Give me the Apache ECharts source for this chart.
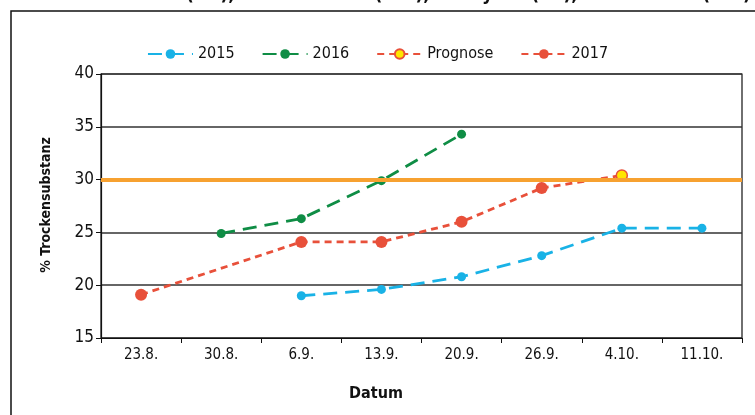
<!DOCTYPE html>
<html><head><meta charset="utf-8">
<script src="https://cdn.jsdelivr.net/npm/echarts@6/dist/echarts.min.js"></script>
<style>html,body{margin:0;padding:0;background:#fff}#c{width:755px;height:415px}</style>
</head><body><div id="c"></div>
<script>
const categories = ['23.8.','30.8.','6.9.','13.9.','20.9.','26.9.','4.10.','11.10.'];
const s2015 = [null, null, 19.0, 19.6, 20.8, 22.8, 25.4, 25.4];
const s2016 = [null, 24.9, 26.3, 29.9, 34.3, null, null, null];
const prognose = [null, null, null, null, null, 29.2, 30.4, null];
const s2017 = [19.1, null, 24.1, 24.1, 26.0, 29.2, null, null];
const threshold = 30;
const yTicks = [15, 20, 25, 30, 35, 40];

const F = '"DejaVu Sans Condensed", "Liberation Sans Narrow", sans-serif';
const chart = echarts.init(document.getElementById('c'));
const prognoseData = prognose.map((v, i) => (v !== null && s2017[i] === v) ? {value: v, symbol: 'none'} : v);
chart.setOption({
  animation: false,
  title: {
    text: 'Standorte: Seehof (SN), Hardehausen (NW), Scheyern (BY), Haus Düsse (NW)',
    left: 'center', top: -19,
    textStyle: {fontFamily: F, fontSize: 19, fontWeight: 'bold', color: '#111'}
  },
  graphic: [
    {type: 'rect', shape: {x: 11, y: 11, width: 780, height: 440}, style: {fill: null, stroke: '#111', lineWidth: 1.5}, z: -1},
    {type: 'text', x: 376, y: 394, style: {text: 'Datum', font: 'bold 16px ' + F, fill: '#111', textAlign: 'center', textVerticalAlign: 'middle'}},
    {type: 'text', x: 46, y: 205, rotation: Math.PI / 2, style: {text: '% Trockensubstanz', font: 'bold 14px ' + F, fill: '#111', textAlign: 'center', textVerticalAlign: 'middle'}}
  ],
  legend: {
    top: 41, left: 'center', itemWidth: 45, itemHeight: 12, itemGap: 27,
    data: ['2015', '2016', 'Prognose', '2017'],
    textStyle: {fontFamily: F, fontSize: 16, color: '#111'}
  },
  grid: {left: 101, right: 13, top: 74, bottom: 77, show: true, borderColor: '#111', borderWidth: 1.2},
  xAxis: {
    type: 'category', data: categories, boundaryGap: true,
    axisLine: {lineStyle: {color: '#111', width: 1.2}},
    axisTick: {show: true, length: 5, lineStyle: {color: '#111'}},
    axisLabel: {fontFamily: F, fontSize: 15, color: '#111', margin: 10}
  },
  yAxis: {
    type: 'value', min: yTicks[0], max: yTicks[yTicks.length - 1], interval: 5,
    axisLine: {show: true, lineStyle: {color: '#111', width: 1.2}},
    axisTick: {show: true, length: 5, lineStyle: {color: '#111'}},
    axisLabel: {fontFamily: F, fontSize: 17, color: '#111', margin: 7},
    splitLine: {lineStyle: {color: '#333', width: 1.5}}
  },
  series: [
    {name: '2015', type: 'line', data: s2015, connectNulls: true,
      symbol: 'circle', symbolSize: 9, itemStyle: {color: '#19b2e6'},
      lineStyle: {color: '#19b2e6', width: 2.8, type: [14, 8]}},
    {name: '2016', type: 'line', data: s2016, connectNulls: true,
      symbol: 'circle', symbolSize: 9, itemStyle: {color: '#0f8d45'},
      lineStyle: {color: '#0f8d45', width: 2.8, type: [14, 8]}},
    {name: 'Prognose', type: 'line', data: prognoseData, connectNulls: true,
      symbol: 'circle', symbolSize: 11, showAllSymbol: true,
      itemStyle: {color: '#ffe600', borderColor: '#e8503a', borderWidth: 1.5},
      lineStyle: {color: '#e8503a', width: 2.8, type: [7, 5]},
      markLine: {silent: true, symbol: 'none', label: {show: false},
        lineStyle: {color: '#f7a130', width: 4, type: 'solid'},
        data: [{yAxis: threshold}]}, z: 1},
    {name: '2017', type: 'line', data: s2017, connectNulls: true,
      symbol: 'circle', symbolSize: 12, itemStyle: {color: '#e8503a'},
      lineStyle: {color: '#e8503a', width: 2.8, type: [7, 5]}, z: 3}
  ]
});
</script>
</body></html>
